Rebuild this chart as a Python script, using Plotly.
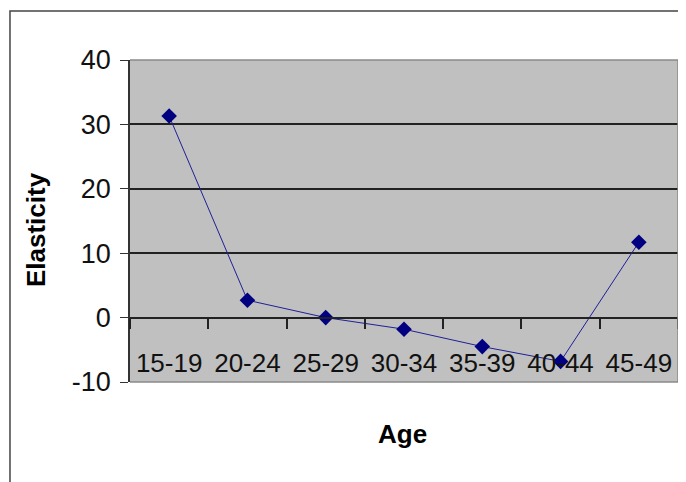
import plotly.graph_objects as go

categories = ["15-19", "20-24", "25-29", "30-34", "35-39", "40-44", "45-49"]
elasticity = [31.3, 2.7, 0.0, -1.8, -4.5, -6.8, 11.7]
y_ticks = [-10, 0, 10, 20, 30, 40]
y_tick_labels = ["-10", "0", "10", "20", "30", "40"]

FONT = "Liberation Sans Narrow, Arial Narrow, Liberation Sans, Arial, sans-serif"

fig = go.Figure()
fig.add_trace(go.Scatter(
    x=categories, y=elasticity, mode="lines+markers",
    line=dict(color="#1f1f99", width=1),
    marker=dict(symbol="diamond", size=12, color="#000080"),
    showlegend=False,
))

fig.update_layout(
    width=678, height=474,
    margin=dict(l=122, r=8, t=52, b=100),
    paper_bgcolor="white",
    plot_bgcolor="#C0C0C0",
    font=dict(family=FONT, size=26, color="black"),
    xaxis=dict(
        type="category", range=[-0.5, 6.5],
        anchor="free", position=0.2, automargin=False,
        showline=True, linecolor="#222", linewidth=1.5,
        ticks="outside", ticklen=11, tickwidth=1.5, tickcolor="#222",
        tickson="boundaries", showgrid=False, zeroline=False,
        tickangle=0, ticklabelstandoff=22,
        tickfont=dict(size=26, family=FONT, color="#111"),
    ),
    yaxis=dict(
        range=[-10, 40], tickvals=y_ticks, ticktext=y_tick_labels,
        automargin=False,
        showgrid=True, gridcolor="#222", gridwidth=1.5,
        showline=True, linecolor="#333", linewidth=1.5,
        ticks="outside", ticklen=8, tickwidth=1.2, tickcolor="#333",
        ticklabelstandoff=4,
        zeroline=False, tickfont=dict(size=27, family=FONT, color="#111"),
    ),
    shapes=[
        dict(type="line", xref="paper", yref="paper", x0=0, x1=1, y0=1, y1=1,
             line=dict(color="#8a8a8a", width=1.5), layer="above"),
        dict(type="line", xref="paper", yref="paper", x0=1, x1=1, y0=0, y1=1,
             line=dict(color="#8a8a8a", width=1.5), layer="above"),
        dict(type="line", xref="paper", yref="paper", x0=0, x1=1, y0=0, y1=0,
             line=dict(color="#8a8a8a", width=1.5), layer="above"),
        dict(type="rect", xref="paper", yref="paper", x0=-0.219, x1=1.05, y0=-0.4, y1=1.152,
             line=dict(color="#444", width=1.5), layer="above"),
    ],
    annotations=[
        dict(text="<b>Elasticity</b>", xref="paper", yref="paper", x=-0.1715, y=0.472,
             xanchor="center", yanchor="middle",
             textangle=-90, showarrow=False, font=dict(size=26, family=FONT)),
        dict(text="<b>Age</b>", xref="paper", yref="paper", x=0.498, y=-0.161,
             xanchor="center", yanchor="middle",
             showarrow=False, font=dict(size=26, family=FONT)),
    ],
)

fig.write_html("out.html")
